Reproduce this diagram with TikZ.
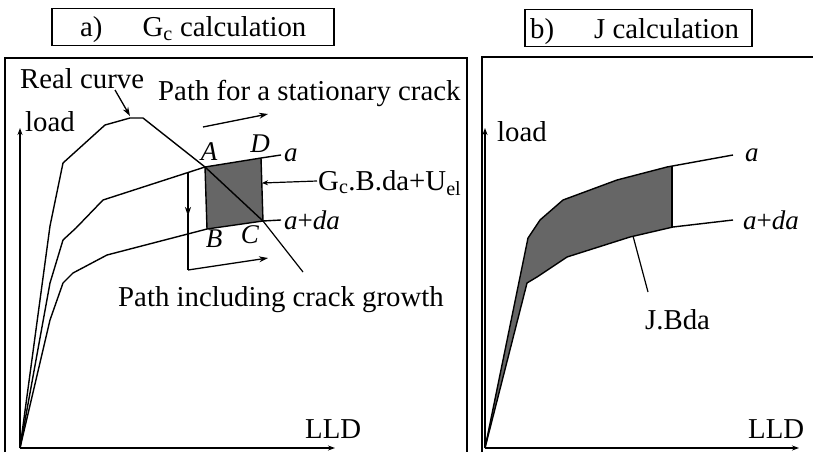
\documentclass[tikz,border=0pt]{standalone}
\usepackage{fontspec}
\setmainfont{Liberation Serif}
\usetikzlibrary{arrows.meta}
\begin{document}
\begin{tikzpicture}[x=1pt,y=-1pt,
  txt/.style={font=\fontsize{28.8}{32}\selectfont, inner sep=0pt},
  itl/.style={font=\fontsize{27}{32}\selectfont\itshape, inner sep=0pt},
  curve/.style={line width=1.4pt, line join=round},
  frm/.style={line width=1.5pt},
  axis/.style={line width=1.4pt, -{Stealth[length=7pt,width=5pt]}},
  arr/.style={line width=1.3pt, -{Stealth[length=9pt,width=6pt]}},
  ptr/.style={line width=1.2pt},
  shadefill/.style={fill=black!60}]
\useasboundingbox (0,0) rectangle (813,452);

% ---------- panel a ----------
\draw[frm] (5,452) -- (5,58) -- (467,58) -- (467,452);
\node[draw, frm, minimum width=282pt, minimum height=37pt, inner sep=0pt] (ta) at (193,27) {};
\node[txt, anchor=base west] (tatxt) at (80,37) {a)\hspace{40pt}G\textsubscript{c} calculation};

\coordinate (O1) at (20,448);
\coordinate (Y1) at (20,128);
\coordinate (X1) at (335,448);
\draw[axis] (O1) -- (Y1);
\draw[axis] (O1) -- (X1);
\node[txt, anchor=base west] (load1) at (25,131) {load};
\node[txt, anchor=base west] (lld1) at (305,438) {LLD};

\coordinate (A) at (205,167);
\coordinate (D) at (261,158);
\coordinate (C) at (263,221);
\coordinate (B) at (207,229);
\fill[shadefill] (A) -- (D) -- (C) -- (B) -- cycle;
\draw[curve] (D) -- (C);
\draw[curve] (A) -- (B);

% real curve
\draw[curve] (O1) -- (50,226) -- (63,163) -- (105,125) -- (130,118) -- (143,118) -- (A) -- (C);
% curve a
\draw[curve] (O1) -- (50,283) -- (63,240) -- (76,228) -- (103,200) -- (A) -- (D) -- (281,155);
% curve a+da
\draw[curve] (O1) -- (50,320) -- (63,283) -- (73,273) -- (107,255) -- (B) -- (C) -- (281,220);

\node[itl, anchor=base] (la) at (209,160) {A};
\node[itl, anchor=base] (ld) at (260,152) {D};
\node[itl, anchor=base] (lb) at (214,247) {B};
\node[itl, anchor=base] (lc) at (250,243) {C};
\node[itl, anchor=base west] (lca) at (284,161) {a};
\node[itl, anchor=base west] (lcada) at (284,229) {a\textup{+}da};

\node[txt, anchor=base west] (real) at (20,88) {Real curve};
\draw[arr] (115,90) -- (130,116);

\node[txt, anchor=base west] (stat) at (158,100) {Path for a stationary crack};
\draw[arr] (203,127) -- (268,114);

\node[txt, anchor=base west] (gc) at (318,190) {G\textsubscript{c}.B.da+U\textsubscript{el}};
\coordinate (gcp) at (317,181);
\draw[ptr, -{Stealth[length=6pt,width=5pt]}] (gcp) -- (262,183);

\draw[arr] (188,172) -- (188,216);
\draw[ptr] (188,214) -- (188,270);
\draw[arr] (188,270) -- (268,258);

\node[txt, anchor=base west] (grow) at (118,306) {Path including crack growth};
\draw[ptr] (C) -- (303,272);

% ---------- panel b ----------
\draw[frm] (482,452) -- (482,57) -- (813,57);
\node[draw, frm, minimum width=227pt, minimum height=37pt, inner sep=0pt] (tb) at (638.5,28) {};
\node[txt, anchor=base west] (tbtxt) at (530,38) {b)\hspace{40pt}J calculation};

\coordinate (O2) at (485,448);
\coordinate (Y2) at (485,128);
\coordinate (X2) at (799,448);
\draw[axis] (O2) -- (Y2);
\draw[axis] (O2) -- (X2);
\node[txt, anchor=base west] (load2) at (497,141) {load};
\node[txt, anchor=base west] (lld2) at (748,438) {LLD};

\fill[shadefill] (O2) -- (528,238) -- (540,220) -- (563,200) -- (617,180) -- (672,166)
  -- (672,227) -- (630,237) -- (567,257) -- (537,277) -- (527,283) -- cycle;
\draw[curve] (672,166) -- (672,227);
\draw[curve] (O2) -- (528,238) -- (540,220) -- (563,200) -- (617,180) -- (667,167) -- (733,155);
\draw[curve] (O2) -- (527,283) -- (537,277) -- (567,257) -- (630,237) -- (673,227) -- (733,220);
\node[itl, anchor=base west] (lba) at (745,161) {a};
\node[itl, anchor=base west] (lbada) at (743,229) {a\textup{+}da};

\node[txt, anchor=base west] (jb) at (645,329) {J.Bda};
\coordinate (jp) at (648,292);
\draw[ptr] (jp) -- (633,236);
\end{tikzpicture}
\end{document}
